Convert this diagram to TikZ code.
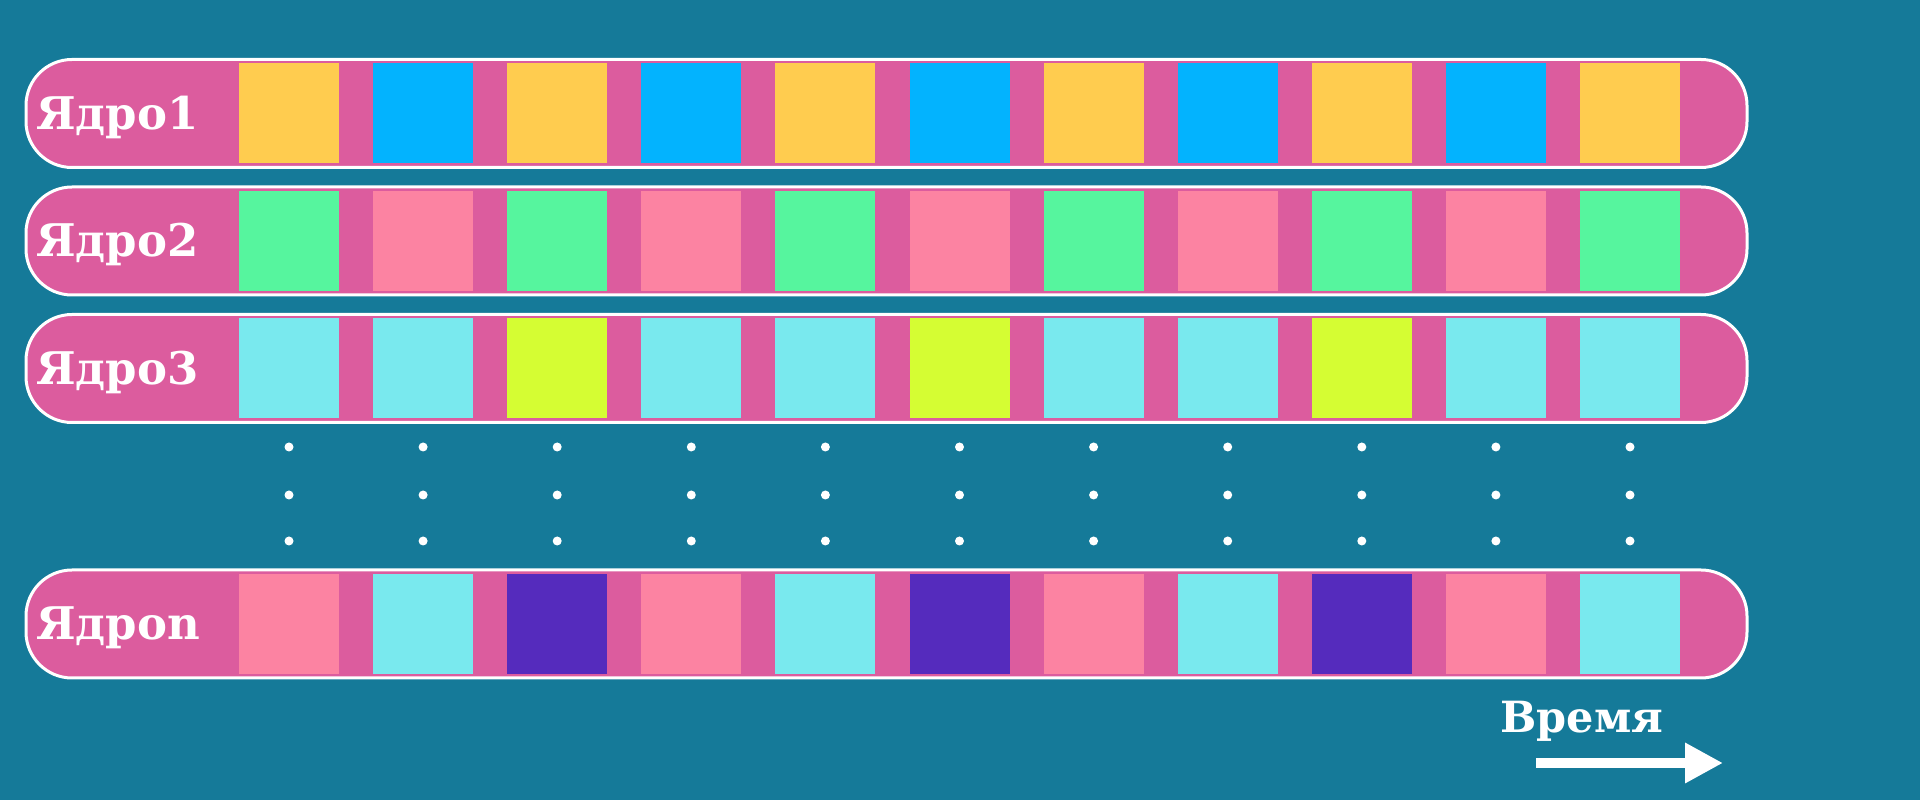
\documentclass[tikz,border=0pt]{standalone}
\usepackage{fontspec}
\setmainfont{DejaVu Serif}
\usetikzlibrary{arrows.meta}

\definecolor{bgteal}{HTML}{157A99}
\definecolor{barpink}{HTML}{DC5C9E}
\definecolor{slotorange}{HTML}{FFCC4F}
\definecolor{slotblue}{HTML}{03B3FE}
\definecolor{slotgreen}{HTML}{56F59E}
\definecolor{slotrose}{HTML}{FC83A2}
\definecolor{slotcyan}{HTML}{79E9EE}
\definecolor{slotlime}{HTML}{D5FD33}
\definecolor{slotviolet}{HTML}{552BBD}

\begin{document}
\begin{tikzpicture}[x=1pt,y=1pt,>={Triangle[length=38pt,width=38pt]},
    core bar/.style={draw=white,line width=3pt,fill=barpink,rounded corners=46pt,minimum width=1721pt,minimum height=108pt,inner sep=0pt},
    slot/.style={minimum size=100pt,inner sep=0pt},
    core label/.style={anchor=west,text=white,font=\fontsize{45}{50}\selectfont\bfseries,inner sep=0pt},
    gap dot/.style={circle,fill=white,minimum size=9pt,inner sep=0pt}]
    \fill[bgteal] (0,0) rectangle (1920,800);
    \useasboundingbox (0,0) rectangle (1920,800);

    % cores
    \node[core bar] (core1) at (886.5,686.5) {};
    \node[core bar] (core2) at (886.5,559) {};
    \node[core bar] (core3) at (886.5,431.5) {};
    \node[core bar] (coren) at (886.5,176) {};

    \node[core label] (lab1) at (36,683) {Ядро1};
    \node[core label] (lab2) at (36,555.5) {Ядро2};
    \node[core label] (lab3) at (36,428) {Ядро3};
    \node[core label] (labn) at (36,172.5) {Ядроn};

    % time slots
    \foreach \c [count=\i] in {slotorange,slotblue,slotorange,slotblue,slotorange,slotblue,slotorange,slotblue,slotorange,slotblue,slotorange}
        \node[slot,fill=\c] (s1-\i) at (289+134.1*\i-134.1,686.5) {};
    \foreach \c [count=\i] in {slotgreen,slotrose,slotgreen,slotrose,slotgreen,slotrose,slotgreen,slotrose,slotgreen,slotrose,slotgreen}
        \node[slot,fill=\c] (s2-\i) at (289+134.1*\i-134.1,559) {};
    \foreach \c [count=\i] in {slotcyan,slotcyan,slotlime,slotcyan,slotcyan,slotlime,slotcyan,slotcyan,slotlime,slotcyan,slotcyan}
        \node[slot,fill=\c] (s3-\i) at (289+134.1*\i-134.1,431.5) {};
    \foreach \c [count=\i] in {slotrose,slotcyan,slotviolet,slotrose,slotcyan,slotviolet,slotrose,slotcyan,slotviolet,slotrose,slotcyan}
        \node[slot,fill=\c] (sn-\i) at (289+134.1*\i-134.1,176) {};

    % dots between core 3 and core n
    \foreach \i in {1,...,11}
        \foreach \y [count=\j] in {353,305,259}
            \node[gap dot] (d\i-\j) at (289+134.1*\i-134.1,\y) {};

    % time axis
    \node[text=white,font=\fontsize{43}{48}\selectfont\bfseries,anchor=base,inner sep=0pt] (time) at (1582,67) {Время};
    \coordinate (t0) at (1536,37);
    \coordinate (t1) at (1723,37);
    \draw[->,white,line width=10pt] (t0) -- (t1);
\end{tikzpicture}
\end{document}
